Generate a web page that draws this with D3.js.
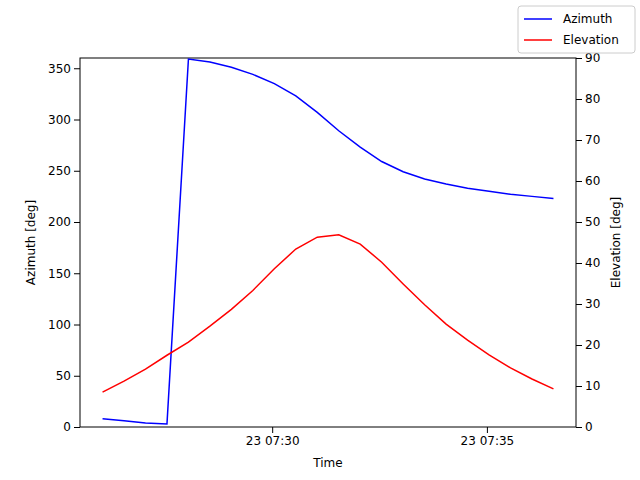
<!DOCTYPE html><html><head><meta charset="utf-8">
<script src="https://d3js.org/d3.v7.min.js"></script>
<style>body{margin:0;background:#fff}text{font-family:"DejaVu Sans",sans-serif}</style></head>
<body><svg id="c" width="640" height="480"></svg><script>
const startTime = "2023-01-23T07:26:03";
const stepSeconds = 30;
const azimuth = [8,6,4,3,359,356,351,344,335,323,307,289,273,259,249,242,237,233,230,227,225,223];
const elevation = [8.5,11.2,14.1,17.5,20.7,24.6,28.7,33.3,38.6,43.4,46.3,46.9,44.6,40.2,34.9,29.8,25.1,21.2,17.6,14.4,11.7,9.3];
const azTicks = [0,50,100,150,200,250,300,350];
const elTicks = [0,10,20,30,40,50,60,70,80,90];
const t0 = new Date(startTime);
const times = azimuth.map((d,i)=>new Date(t0.getTime()+i*stepSeconds*1000));
const xTicks = [new Date("2023-01-23T07:30:00"), new Date("2023-01-23T07:35:00")];

const svg = d3.select("#c");
const L=80,R=576,T=58,B=427;
const span = times[times.length-1]-times[0];
const x = d3.scaleTime().domain([new Date(times[0]-span*0.05), new Date(+times[times.length-1]+span*0.05)]).range([L,R]);
const yL = d3.scaleLinear().domain([0,360]).range([B,T]);
const yR = d3.scaleLinear().domain([0,90]).range([B,T]);

svg.append("g").attr("transform",`translate(0,${B})`).call(d3.axisBottom(x).tickValues(xTicks).tickFormat(d3.timeFormat("%d %H:%M")).tickSizeOuter(0));
svg.append("g").attr("transform",`translate(${L},0)`).call(d3.axisLeft(yL).tickValues(azTicks).tickSizeOuter(0));
svg.append("g").attr("transform",`translate(${R},0)`).call(d3.axisRight(yR).tickValues(elTicks).tickSizeOuter(0));
svg.selectAll(".tick text").attr("font-size",12).attr("fill","#000").attr("font-family","DejaVu Sans");
svg.selectAll(".domain").remove();
svg.append("rect").attr("x",L).attr("y",T).attr("width",R-L).attr("height",B-T).attr("fill","none").attr("stroke","#000");

svg.append("path").datum(azimuth).attr("fill","none").attr("stroke","blue").attr("stroke-width",1.5)
  .attr("d",d3.line().x((d,i)=>x(times[i])).y(d=>yL(d)));
svg.append("path").datum(elevation).attr("fill","none").attr("stroke","red").attr("stroke-width",1.5)
  .attr("d",d3.line().x((d,i)=>x(times[i])).y(d=>yR(d)));

svg.append("text").attr("x",(L+R)/2).attr("y",467).attr("text-anchor","middle").attr("font-size",12).text("Time");
svg.append("text").attr("transform",`translate(35,${(T+B)/2}) rotate(-90)`).attr("text-anchor","middle").attr("font-size",12).text("Azimuth [deg]");
svg.append("text").attr("transform",`translate(620,${(T+B)/2}) rotate(-90)`).attr("text-anchor","middle").attr("font-size",12).text("Elevation [deg]");

const lg = svg.append("g");
lg.append("rect").attr("x",518).attr("y",6).attr("width",117).attr("height",47).attr("rx",3).attr("fill","#fff").attr("stroke","#ccc");
[["Azimuth","blue"],["Elevation","red"]].forEach(([n,c],i)=>{
  const yy=19+i*21;
  lg.append("line").attr("x1",524).attr("x2",552).attr("y1",yy).attr("y2",yy).attr("stroke",c).attr("stroke-width",1.5);
  lg.append("text").attr("x",563).attr("y",yy+4).attr("font-size",12).text(n);
});
</script></body></html>
